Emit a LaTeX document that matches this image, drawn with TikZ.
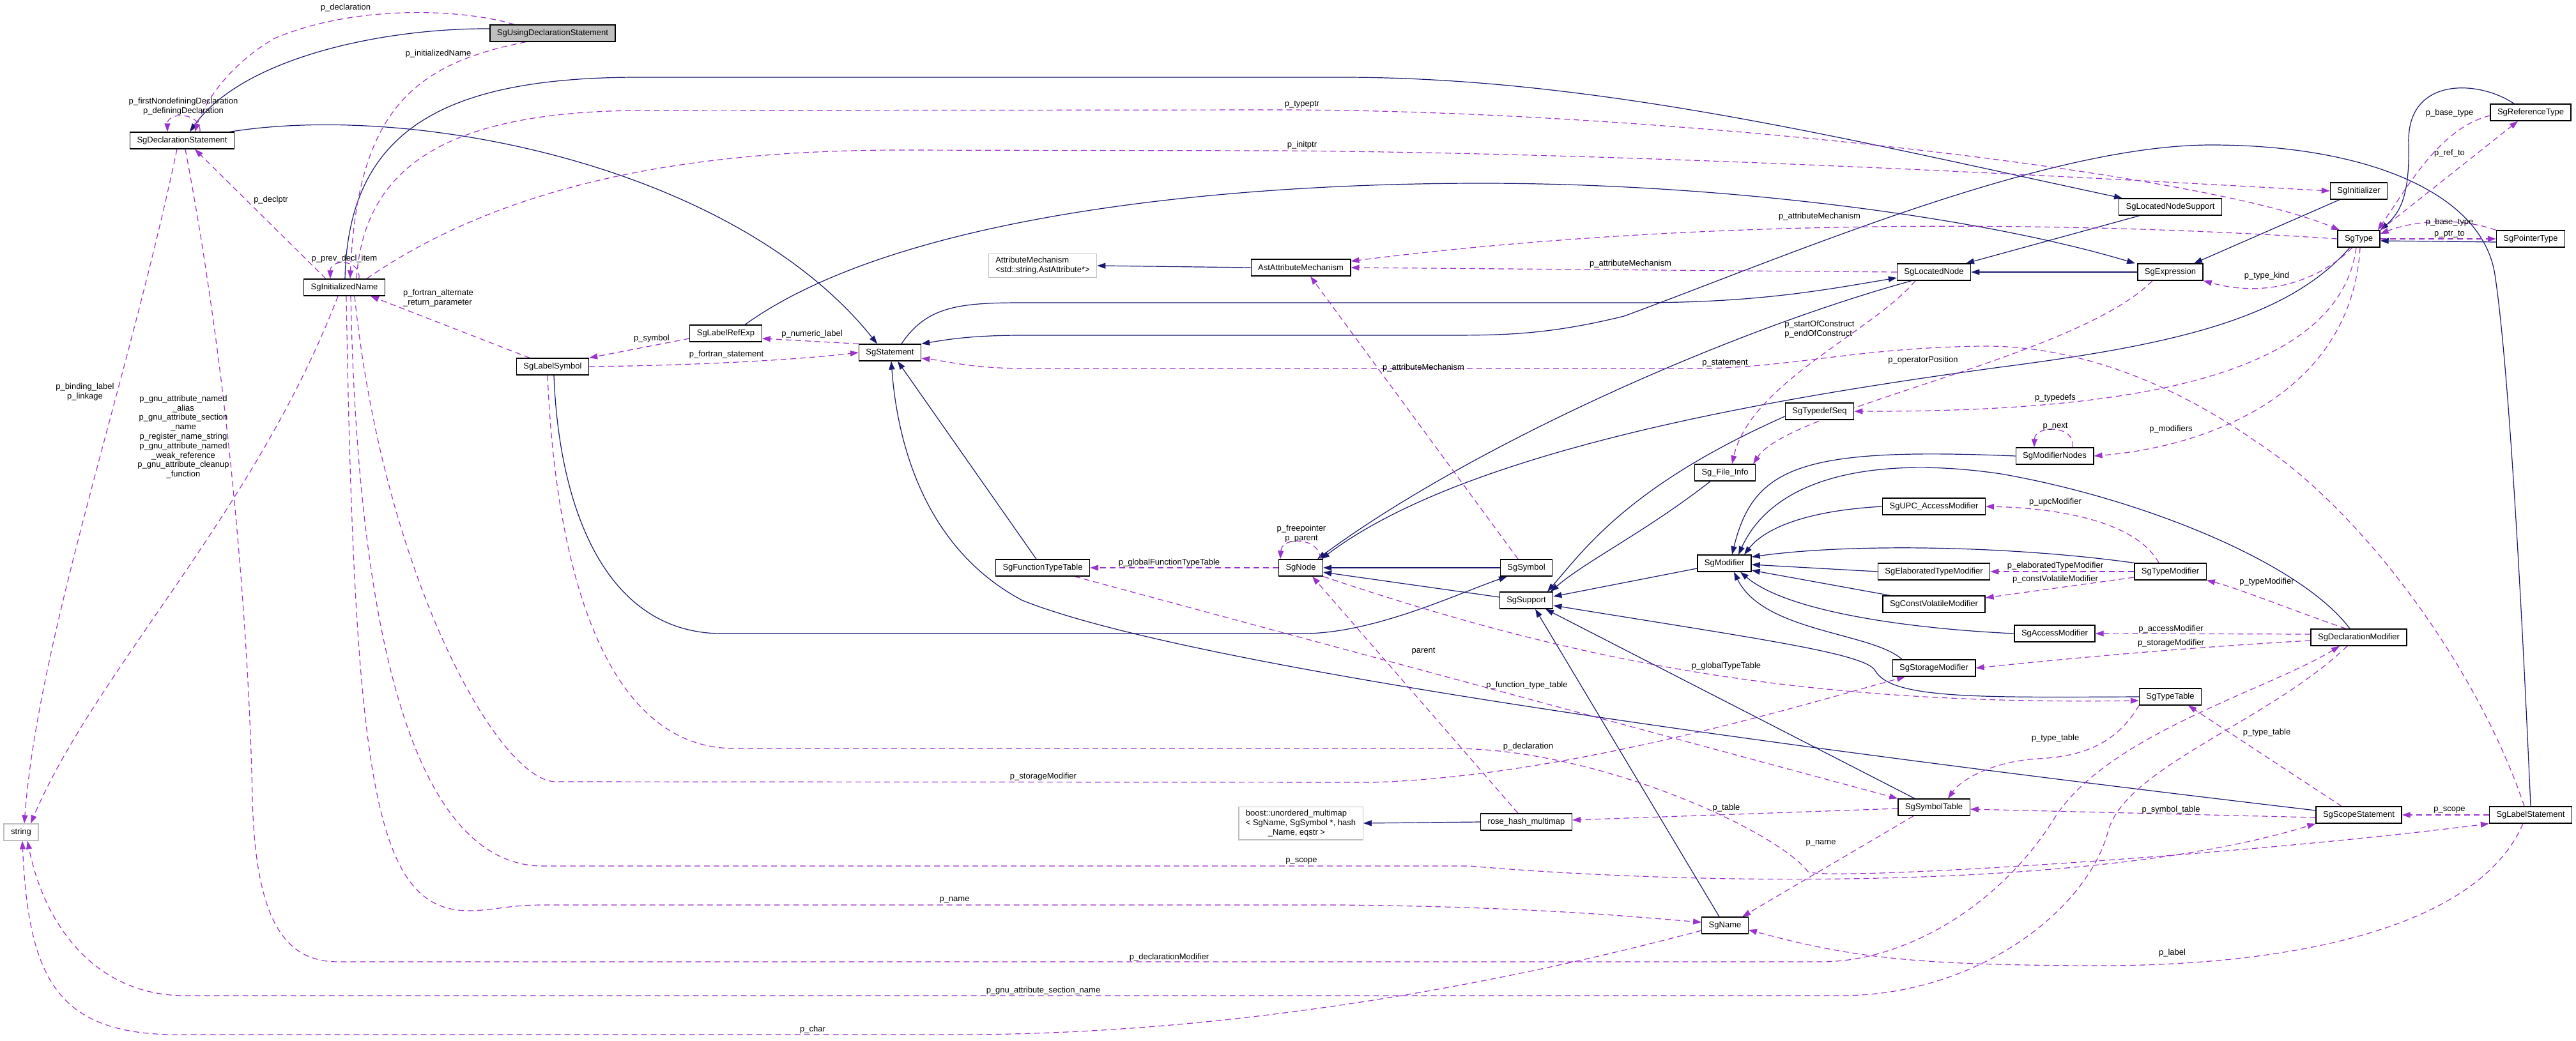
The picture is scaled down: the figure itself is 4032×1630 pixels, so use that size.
\documentclass[tikz,border=0pt]{standalone}
\usepackage{fontspec}
\setmainfont{Liberation Sans}
\usetikzlibrary{arrows.meta,backgrounds}
\definecolor{edgeblue}{HTML}{191970}
\definecolor{edgeorchid}{HTML}{9A32CD}
\definecolor{boxgray}{HTML}{BFBFBF}

\tikzset{
  cls/.style={draw=black, line width=1.3pt, fill=white, minimum height=26pt,
    inner xsep=11pt, inner ysep=2pt, font=\fontsize{13}{14.8}\selectfont},
  ext/.style={cls, draw=boxgray},
  inh/.style={draw=edgeblue, line width=1.2pt, -{Triangle[length=13pt,width=9pt]}},
  use/.style={draw=edgeorchid, line width=1.2pt, dash pattern=on 9pt off 6pt,
    -{Triangle[length=13pt,width=9pt]}},
  lbl/.style={font=\fontsize{13}{14.8}\selectfont, inner sep=0pt, align=center},
}

\begin{document}
\begin{tikzpicture}[x=1pt,y=-1pt]
\useasboundingbox (0,0) rectangle (4032,1630);

% classes
\node[cls, fill=boxgray] (using) at (865,52) {SgUsingDeclarationStatement};
\node[cls] (dcl) at (285,220) {SgDeclarationStatement};
\node[cls] (iname) at (539,450) {SgInitializedName};
\node[ext] (str) at (33,1303) {string};
\node[cls] (lsym) at (865,574) {SgLabelSymbol};
\node[cls] (lref) at (1136,522) {SgLabelRefExp};
\node[cls] (stmt) at (1393,552) {SgStatement};
\node[ext, align=left, inner ysep=5pt] (attrm) at (1632,416) {AttributeMechanism\\<std::string,AstAttribute*>};
\node[cls] (astattr) at (2036,419) {AstAttributeMechanism};
\node[cls] (ftt) at (1632,889) {SgFunctionTypeTable};
\node[cls] (sgnode) at (2036,889) {SgNode};
\node[cls] (sym) at (2389,889) {SgSymbol};
\node[cls] (supp) at (2389,940) {SgSupport};
\node[ext, align=left, inner ysep=5pt] (boost) at (2036,1289) {boost::unordered\_multimap\\< SgName, SgSymbol *, hash\\\hspace*{35pt}\_Name, eqstr >};
\node[cls] (rhm) at (2389,1287) {rose\_hash\_multimap};
\node[cls] (finfo) at (2700,740) {Sg\_File\_Info};
\node[cls] (tdseq) at (2848,644) {SgTypedefSeq};
\node[cls] (mod) at (2699,882) {SgModifier};
\node[cls] (sgname) at (2700,1449) {SgName};
\node[cls] (lnode) at (3027,426) {SgLocatedNode};
\node[cls] (upc) at (3027,793) {SgUPC\_AccessModifier};
\node[cls] (elab) at (3027,895) {SgElaboratedTypeModifier};
\node[cls] (cv) at (3027,946) {SgConstVolatileModifier};
\node[cls] (stor) at (3027,1046) {SgStorageModifier};
\node[cls] (symtab) at (3027,1264) {SgSymbolTable};
\node[cls] (modn) at (3216,714) {SgModifierNodes};
\node[cls] (acc) at (3216,992) {SgAccessModifier};
\node[cls] (lns) at (3397,324) {SgLocatedNodeSupport};
\node[cls] (expr) at (3397,426) {SgExpression};
\node[cls] (tmod) at (3397,895) {SgTypeModifier};
\node[cls] (ttab) at (3397,1091) {SgTypeTable};
\node[cls] (init) at (3692,299) {SgInitializer};
\node[cls] (type) at (3692,374) {SgType};
\node[cls] (declmod) at (3692,998) {SgDeclarationModifier};
\node[cls] (scope) at (3692,1276) {SgScopeStatement};
\node[cls] (reft) at (3961,176) {SgReferenceType};
\node[cls] (ptrt) at (3961,374) {SgPointerType};
\node[cls] (lstmt) at (3961,1276) {SgLabelStatement};

% member labels
\foreach \lx/\ly/\ltxt [count=\li] in {
  541/12/{p\_declaration},
  686/84/{p\_initializedName},
  287/167/{p\_firstNondefiningDeclaration\\p\_definingDeclaration},
  424/313/{p\_declptr},
  539/405/{p\_prev\_decl\_item},
  133/614/{p\_binding\_label\\p\_linkage},
  287/684/{p\_gnu\_attribute\_named\\\_alias\\p\_gnu\_attribute\_section\\\_name\\p\_register\_name\_string\\p\_gnu\_attribute\_named\\\_weak\_reference\\p\_gnu\_attribute\_cleanup\\\_function},
  1020/530/{p\_symbol},
  1271/523/{p\_numeric\_label},
  1137/555/{p\_fortran\_statement},
  2038/164/{p\_typeptr},
  2038/227/{p\_initptr},
  2848/339/{p\_attributeMechanism},
  2552/413/{p\_attributeMechanism},
  2228/576/{p\_attributeMechanism},
  2700/569/{p\_statement},
  3010/564/{p\_operatorPosition},
  3834/177/{p\_base\_type},
  3834/240/{p\_ref\_to},
  3834/348/{p\_base\_type},
  3834/367/{p\_ptr\_to},
  3548/432/{p\_type\_kind},
  3217/623/{p\_typedefs},
  3217/668/{p\_next},
  3398/672/{p\_modifiers},
  3217/786/{p\_upcModifier},
  3217/886/{p\_elaboratedTypeModifier},
  3217/907/{p\_constVolatileModifier},
  3548/911/{p\_typeModifier},
  3398/985/{p\_accessModifier},
  3398/1007/{p\_storageModifier},
  3217/1156/{p\_type\_table},
  3548/1147/{p\_type\_table},
  3398/1268/{p\_symbol\_table},
  3834/1268/{p\_scope},
  3400/1492/{p\_label},
  1830/881/{p\_globalFunctionTypeTable},
  2037/836/{p\_freepointer\\p\_parent},
  2228/1020/{parent},
  2702/1043/{p\_globalTypeTable},
  2390/1073/{p\_function\_type\_table},
  2392/1169/{p\_declaration},
  2702/1265/{p\_table},
  2850/1320/{p\_name},
  2037/1348/{p\_scope},
  1633/1216/{p\_storageModifier},
  1494/1409/{p\_name},
  1830/1499/{p\_declarationModifier},
  1633/1551/{p\_gnu\_attribute\_section\_name},
  1272/1612/{p\_char}}
  \node[lbl] (lab\li) at (\lx,\ly) {\ltxt};
\node[lbl, align=left] (fortlab) at (686,467) {p\_fortran\_alternate\\\_return\_parameter};
\node[lbl, align=left] (constrlab) at (2848,516) {p\_startOfConstruct\\p\_endOfConstruct};

\begin{scope}[on background layer]
% inheritance
\draw[inh] ([yshift=7]using.west) .. controls (600,44) and (380,90) .. ([xshift=12]dcl.north);
\draw[inh] ([xshift=75]dcl.north) .. controls (650,160) and (1150,260) .. ([xshift=-20]stmt.north);
\draw[inh] ([xshift=1]iname.north) .. controls (545,200) and (700,121) .. (1000,121) -- (2100,121)
  .. controls (2500,121) and (2900,220) .. ([xshift=-75]lns.north);
\draw[inh] ([xshift=-48]lns.south) -- ([xshift=50]lnode.north);
\draw[inh] ([xshift=-30]init.south) -- ([xshift=37]expr.north);
\draw[inh] (expr.west) -- (lnode.east);
\draw[inh] ([xshift=30]lref.north) .. controls (1400,340) and (1900,287) .. (2319,287)
  .. controls (2700,287) and (3100,340) .. ([xshift=-55]expr.north);
\draw[inh] ([xshift=18]stmt.north) .. controls (1450,480) and (1500,474) .. (1600,474) -- (2560,474)
  .. controls (2750,474) and (2850,455) .. ([yshift=-9]lnode.west);
\draw[inh] (lstmt.north) .. controls (3945,900) and (3925,560) .. (3905,430)
  .. controls (3885,300) and (3700,227) .. (3461,227)
  .. controls (3200,227) and (2800,400) .. (2542,495)
  .. controls (2420,525) and (2350,525) .. (2255,525) -- (1600,525)
  .. controls (1520,525) and (1480,532) .. (stmt.north east);
\draw[inh] ([yshift=7]scope.west) .. controls (2700,1160) and (1850,1040) .. (1600,940)
  .. controls (1450,860) and (1405,700) .. ([xshift=2]stmt.south);
\draw[inh] ([xshift=-10]ftt.north) -- ([xshift=12]stmt.south);
\draw[inh] ([xshift=2]lsym.south) .. controls (875,800) and (950,992) .. (1130,992) -- (2040,992)
  .. controls (2150,992) and (2280,930) .. ([xshift=-30]sym.south);
\draw[inh] (sym.west) -- (sgnode.east);
\draw[inh] ([yshift=5]supp.west) -- ([yshift=-7]sgnode.east);
\draw[inh] ([xshift=-35]lnode.south) .. controls (2700,520) and (2300,700) .. ([xshift=26]sgnode.north);
\draw[inh] ([xshift=-14]type.south) .. controls (3580,500) and (3400,540) .. (3130,575)
  .. controls (2800,620) and (2300,700) .. ([xshift=32]sgnode.north);
\draw[inh] ([yshift=-8]mod.west) -- ([yshift=6]supp.east);
\draw[inh] ([xshift=-23]finfo.south) .. controls (2580,830) and (2480,880) .. ([xshift=38]supp.north);
\draw[inh] ([yshift=-8]tdseq.west) .. controls (2550,760) and (2480,860) .. ([xshift=33]supp.north);
\draw[inh] (ttab.west) .. controls (3100,1092) and (2960,1095) .. (2935,1050)
  .. controls (2920,1023) and (2750,1000) .. ([yshift=-8]supp.east);
\draw[inh] ([xshift=-30]symtab.north) -- ([xshift=30]supp.south);
\draw[inh] ([xshift=-9]sgname.north) -- ([xshift=14]supp.south);
\draw[inh] (modn.west) .. controls (2820,700) and (2745,730) .. ([xshift=12]mod.north);
\draw[inh] ([xshift=-14]declmod.north) .. controls (3600,880) and (3350,780) .. (3132,742)
  .. controls (2950,715) and (2780,740) .. ([xshift=22]mod.north);
\draw[inh] (upc.west) .. controls (2820,800) and (2760,830) .. ([xshift=31]mod.north);
\draw[inh] (tmod.north west) .. controls (3150,855) and (2900,850) .. ([yshift=10]mod.east);
\draw[inh] (elab.west) -- ([yshift=-2]mod.east);
\draw[inh] ([xshift=12]cv.north west) -- ([yshift=-11]mod.east);
\draw[inh] (acc.west) .. controls (3000,985) and (2800,960) .. ([xshift=25]mod.south);
\draw[inh] ([xshift=-50]stor.north) .. controls (2930,990) and (2760,990) .. ([xshift=15]mod.south);
\draw[inh] ([xshift=-26]reft.north) .. controls (3880,125) and (3770,120) .. (3770,220)
  .. controls (3772,300) and (3760,330) .. (type.north east);
\draw[inh] ([yshift=-5]ptrt.west) -- ([yshift=-3]type.east);
\draw[inh] (astattr.west) -- (attrm.east);
\draw[inh] (rhm.west) -- (boost.east);

% usage
\draw[use] ([xshift=-60]using.north) .. controls (730,15) and (560,5) .. (430,60)
  .. controls (360,100) and (320,160) .. ([xshift=20]dcl.north);
\draw[use] ([xshift=28]dcl.north) .. controls (315,175) and (262,175) .. ([xshift=-23]dcl.north);
\draw[use] ([xshift=-42]using.south) .. controls (650,100) and (560,170) .. ([xshift=9]iname.north);
\draw[use] ([xshift=23]iname.north) .. controls (565,405) and (517,405) .. ([xshift=-22]iname.north);
\draw[use] ([xshift=19]iname.north) .. controls (570,260) and (700,175) .. (1000,173) -- (2000,172)
  .. controls (2600,172) and (3450,270) .. ([xshift=-30]type.north);
\draw[use] ([xshift=35]iname.north) .. controls (800,280) and (1100,236) .. (1400,235) -- (2000,236)
  .. controls (2600,240) and (3300,280) .. (init.west);
\draw[use] ([xshift=-29]iname.north) -- ([xshift=20]dcl.south);
\draw[use] ([xshift=-36]lsym.north) -- ([xshift=41]iname.south);
\draw[use] ([yshift=-8]lref.west) -- (lsym.north east);
\draw[use] (stmt.north west) -- ([yshift=-8]lref.east);
\draw[use] (lsym.east) .. controls (1100,572) and (1250,563) .. (stmt.west);
\draw[use] ([xshift=-10]lstmt.north) .. controls (3880,1050) and (3700,800) .. (3529,690)
  .. controls (3400,600) and (3250,540) .. (3100,542)
  .. controls (2900,545) and (2800,577) .. (2650,577) -- (1606,577)
  .. controls (1520,577) and (1480,565) .. ([yshift=-9]stmt.east);
\draw[use] (type.west) .. controls (3300,350) and (2700,335) .. ([yshift=10]astattr.east);
\draw[use] (lnode.west) -- (astattr.east);
\draw[use] ([xshift=-13]sym.north) -- ([xshift=15]astattr.south);
\draw[use] ([xshift=-29]lnode.south) .. controls (2930,520) and (2740,600) .. ([xshift=11]finfo.north);
\draw[use] ([xshift=-28]expr.south) .. controls (3250,560) and (2800,640) .. ([xshift=-4]finfo.north east);
\draw[use] ([xshift=-10]type.south) .. controls (3640,430) and (3560,470) .. (expr.south east);
\draw[use] ([xshift=-4]type.south) .. controls (3660,600) and (3300,645) .. (tdseq.east);
\draw[use] ([xshift=2]type.south) .. controls (3680,620) and (3450,700) .. (modn.east);
\draw[use] ([xshift=28]modn.north) .. controls (3250,665) and (3185,665) .. ([xshift=-32]modn.north);
\draw[use] (ptrt.north west) .. controls (3850,340) and (3780,345) .. ([yshift=8]type.east);
\draw[use] (type.east) -- (ptrt.west);
\draw[use] ([yshift=-5]reft.west) .. controls (3820,200) and (3770,290) .. ([xshift=-4]type.north east);
\draw[use] (type.north east) -- ([xshift=-20]reft.south);
\draw[use] ([xshift=-20]declmod.north) .. controls (3600,960) and (3500,920) .. (tmod.south east);
\draw[use] ([xshift=-18]tmod.north) .. controls (3340,810) and (3200,795) .. (upc.east);
\draw[use] (tmod.west) -- (elab.east);
\draw[use] ([yshift=-9]tmod.west) -- ([yshift=10]cv.east);
\draw[use] ([yshift=5]declmod.west) -- (acc.east);
\draw[use] ([yshift=-5]declmod.west) .. controls (3400,1015) and (3200,1035) .. (stor.east);
\draw[use] (sgnode.west) -- (ftt.east);
\draw[use] ([xshift=31]sgnode.north) .. controls (2065,840) and (2006,840) .. ([xshift=-32]sgnode.north);
\draw[use] (sgnode.south east) .. controls (2450,1030) and (2800,1105) .. ([yshift=-6]ttab.west);
\draw[use] ([xshift=-13]rhm.north) -- ([xshift=18]sgnode.south);
\draw[use] ([xshift=50]ftt.south) -- (symtab.north west);
\draw[use] ([yshift=-2]symtab.west) -- ([yshift=3]rhm.east);
\draw[use] ([xshift=-32]symtab.south) -- ([xshift=27]sgname.north);
\draw[use] ([xshift=-8]lsym.south) .. controls (870,900) and (950,1172) .. (1150,1172) -- (2274,1172)
  .. controls (2500,1172) and (2780,1300) .. (2830,1365)
  .. controls (2860,1380) and (3500,1340) .. (lstmt.south west);
\draw[use] ([xshift=3]iname.south) .. controls (555,1250) and (590,1430) .. (740,1426)
  .. controls (780,1424) and (800,1417) .. (850,1417) -- (2100,1417)
  .. controls (2400,1420) and (2550,1435) .. ([yshift=5]sgname.west);
\draw[use] ([xshift=10]iname.south) .. controls (560,1000) and (650,1356) .. (850,1356) -- (2300,1356)
  .. controls (2700,1390) and (3300,1390) .. (scope.south west);
\draw[use] ([xshift=16]iname.south) .. controls (600,900) and (780,1224) .. (870,1224) -- (2150,1225)
  .. controls (2450,1215) and (2800,1110) .. ([xshift=-45]stor.south);
\draw[use] ([xshift=-10]iname.south) .. controls (400,800) and (150,1050) .. ([xshift=15]str.north);
\draw[use] ([xshift=-8]dcl.south) .. controls (200,600) and (60,1000) .. ([xshift=5]str.north);
\draw[use] ([xshift=5]dcl.south) .. controls (360,600) and (390,1000) .. (395,1250)
  .. controls (400,1450) and (450,1506) .. (530,1506) -- (2850,1506)
  .. controls (2980,1506) and (3130,1420) .. (3217,1279)
  .. controls (3300,1150) and (3550,1080) .. ([xshift=-30]declmod.south);
\draw[use] ([xshift=-18]declmod.south) .. controls (3550,1130) and (3330,1200) .. (3300,1300)
  .. controls (3270,1420) and (3100,1559) .. (2880,1559) -- (290,1559)
  .. controls (150,1559) and (70,1450) .. ([xshift=10]str.south);
\draw[use] ([yshift=-8]sgname.west) .. controls (2200,1580) and (1800,1620) .. (1500,1620) -- (300,1620)
  .. controls (100,1625) and (45,1550) .. ([xshift=2]str.south);
\draw[use] ([xshift=-12]lstmt.south) .. controls (3880,1450) and (3600,1510) .. (3300,1512)
  .. controls (3000,1512) and (2900,1500) .. ([yshift=-7]sgname.east);
\draw[use] (lstmt.west) -- (scope.east);
\draw[use] ([yshift=-4]scope.west) -- ([yshift=-3]symtab.east);
\draw[use] ([xshift=-27]scope.north) -- ([xshift=28]ttab.south);
\draw[use] (ttab.south west) .. controls (3310,1170) and (3250,1185) .. (3190,1188)
  .. controls (3120,1192) and (3070,1220) .. ([xshift=22]symtab.north);
\end{scope}
\end{tikzpicture}
\end{document}
